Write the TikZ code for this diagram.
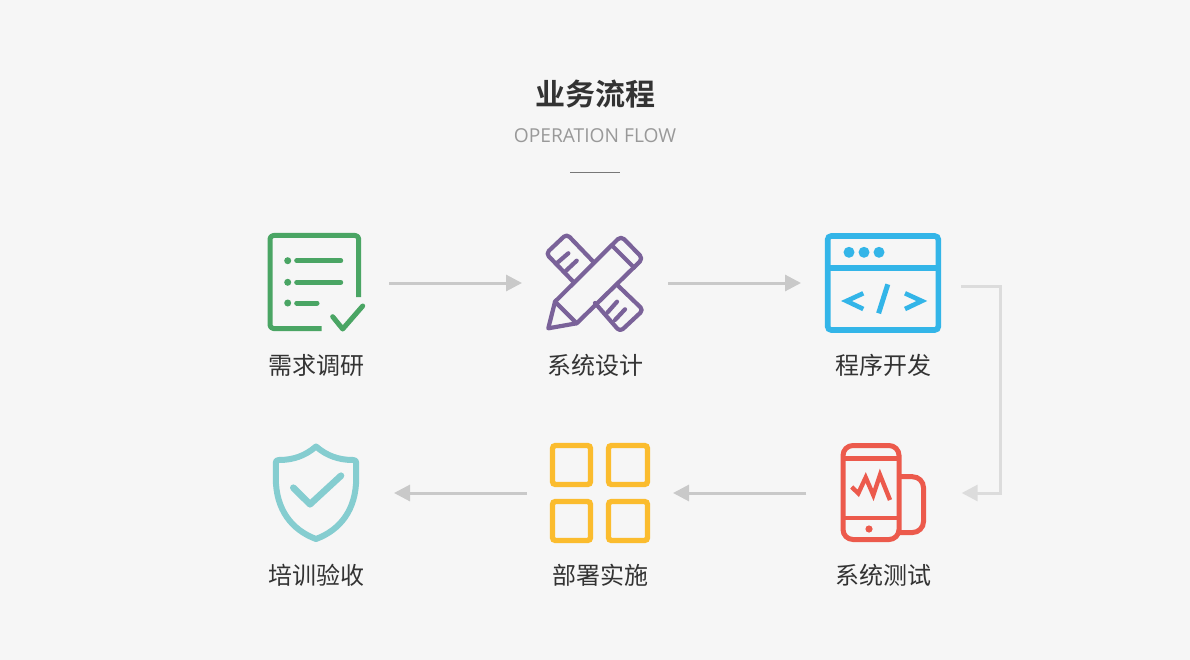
\documentclass[tikz,border=0pt]{standalone}
\usepackage{fontspec}
\setmainfont{Open Sans}
\newfontfamily\cjk{Noto Sans CJK SC}
\newfontfamily\cjkbold{Noto Sans CJK SC Bold}
\usetikzlibrary{arrows.meta}
\definecolor{pagebg}{HTML}{F6F6F6}
\definecolor{inkdark}{HTML}{333333}
\definecolor{inkmuted}{HTML}{999999}
\definecolor{ruleline}{HTML}{777777}
\definecolor{flowgrey}{HTML}{C9C9C9}
\definecolor{elbowgrey}{HTML}{DCDCDC}
\definecolor{icongreen}{HTML}{4AA564}
\definecolor{iconpurple}{HTML}{7A6299}
\definecolor{iconblue}{HTML}{33B5E8}
\definecolor{iconred}{HTML}{EC5A4C}
\definecolor{iconamber}{HTML}{FBBC2E}
\definecolor{iconteal}{HTML}{85CDD0}
\tikzset{
  iconbox/.style={inner sep=0pt,outer sep=0pt,minimum height=100pt},
  caption/.style={font=\cjk\fontsize{24}{28}\selectfont,text=inkdark,inner sep=0pt,anchor=center},
  flowarrow/.style={draw=flowgrey,line width=3pt,-{Triangle[length=16pt,width=16pt,fill=flowgrey]}},
  elbowarrow/.style={draw=elbowgrey,line width=3pt,-{Triangle[length=16pt,width=16pt,fill=elbowgrey]}},
  glyph/.style={line width=#1,line cap=round,line join=round},
  glyph/.default=5pt
}
\begin{document}
\begin{tikzpicture}[x=1pt,y=-1pt]
\useasboundingbox (0,0) rectangle (1190,660);
\fill[pagebg] (0,0) rectangle (1190,660);

% heading
\node[inner sep=0pt,text=inkdark,font=\cjkbold\fontsize{30}{34}\selectfont] (title) at (595.5,94) {业务流程};
\node[inner sep=0pt,text=inkmuted,font=\fontsize{19.2}{22}\selectfont] (subtitle) at (595,135.5) {OPERATION FLOW};
\draw[ruleline,line width=1pt] (570,172.5) -- (620,172.5);

% invisible boxes that carry the flow connectors
\node[iconbox,minimum width=146pt] (req) at (316,283) {};
\node[iconbox,minimum width=146pt] (design) at (595,283) {};
\node[iconbox,minimum width=160pt] (code) at (881,283) {};
\node[iconbox,minimum width=155.4pt] (test) at (884,493) {};
\node[iconbox,minimum width=146pt] (deploy) at (600,493) {};
\node[iconbox,minimum width=156pt] (accept) at (316,493) {};
\coordinate (elbowstart) at ([yshift=-3pt]code.east);
\coordinate (bend) at (1000.5,286);

\draw[flowarrow] (req.east) -- (design.west);
\draw[flowarrow] (design.east) -- (code.west);
\draw[elbowarrow] (elbowstart) -- (bend) |- (test.east);
\draw[flowarrow] (test.west) -- (deploy.east);
\draw[flowarrow] (deploy.west) -- (accept.east);

% checklist
\begin{scope}[icongreen]
\draw[glyph,line cap=butt,rounded corners=3.5pt] (321.7,328.5) -- (270,328.5) -- (270,235.5) -- (358.7,235.5) -- (358.7,297);
\draw[glyph] (296.7,260.7) -- (340.7,260.7) (296.7,282.3) -- (340.7,282.3) (296.7,303) -- (317,303);
\fill (287.7,260.7) circle (3.5pt) (287.7,282.3) circle (3.5pt) (287.7,303) circle (3.5pt);
\draw[glyph] (332.7,316.7) -- (342.7,329) -- (362.7,306);
\end{scope}

% pencil over ruler
\begin{scope}[iconpurple]
\draw[glyph=4.2pt,rounded corners=4pt] (593.3,261.7) -- (566.7,234) -- (546,253.5) -- (573.3,281.7);
\draw[glyph=4.2pt] (556.7,263.3) -- (568.3,253.3) (565,271.7) -- (576.7,260.7);
\draw[glyph=4.2pt,rounded corners=4pt] (595,303) -- (620,331.7) -- (643.3,310) -- (617.3,285);
\draw[glyph=4.2pt] (607.3,312.7) -- (617,301.7) (615,320) -- (625,309.3);
\draw[glyph=4.2pt,rounded corners=4.5pt] (555,301.7) -- (621,236) -- (643,258.5) -- (576.7,323.3);
\draw[glyph=4.2pt] (555,301.7) -- (548.3,328.3) -- (576.7,323.3) -- cycle;
\draw[glyph=4.2pt] (612,245.5) -- (634,267.5);
\end{scope}

% code window
\begin{scope}[iconblue]
\draw[line width=5.6pt,rounded corners=3.5pt] (827.7,236) rectangle (938.3,330);
\draw[line width=6pt] (827.7,268.3) -- (938.3,268.3);
\fill (849,252.3) circle (5.5pt) (864,252.3) circle (5.5pt) (879,252.3) circle (5.5pt);
\draw[glyph=4.6pt,line cap=butt,line join=miter] (863.3,293.3) -- (846.5,301) -- (863.3,309);
\draw[glyph=4.6pt,line cap=butt,line join=miter] (905,293.3) -- (921.8,301) -- (905,309);
\draw[line width=5pt] (887.8,284.3) -- (878.6,313.3);
\end{scope}

% handset with signal trace
\begin{scope}[iconred]
\draw[line width=5pt,rounded corners=10pt] (843,445.5) rectangle (899,539.5);
\draw[line width=4.4pt] (843,458.3) -- (899,458.3) (843,517.7) -- (899,517.7);
\fill (869,529) circle (3.6pt);
\draw[line width=5pt,rounded corners=11pt] (899,476.7) -- (923.5,476.7) -- (923.5,532.5) -- (899,532.5);
\draw[line width=4.4pt,line join=miter] (851.7,487) -- (858.3,493.3) -- (865.7,477.5) -- (873.3,495) -- (880,475) -- (890,500);
\end{scope}

% grid of four tiles
\begin{scope}[iconamber,line width=5.4pt,rounded corners=3pt]
\draw (552.5,445.5) rectangle (590.5,484.5);
\draw (608.5,445.5) rectangle (647.5,484.5);
\draw (552.5,501.5) rectangle (590.5,540.5);
\draw (608.5,501.5) rectangle (647.5,540.5);
\end{scope}

% shield with tick
\begin{scope}[iconteal]
\draw[line width=6pt,line join=round]
  (316,446.5) .. controls (305,456) and (293,460) .. (279,460)
  .. controls (276.5,460) and (275.8,461) .. (275.8,463)
  -- (275.8,478)
  .. controls (275.8,510) and (292,530) .. (316,539)
  .. controls (340,530) and (356.2,510) .. (356.2,478)
  -- (356.2,463)
  .. controls (356.2,461) and (355.5,460) .. (353,460)
  .. controls (339,460) and (327,456) .. (316,446.5) -- cycle;
\draw[glyph=6.6pt] (293.3,487.7) -- (310,504.3) -- (341,475.7);
\end{scope}

% step captions
\node[caption] (capreq) at (316,365) {需求调研};
\node[caption] (capdesign) at (595,365) {系统设计};
\node[caption] (capcode) at (883,365) {程序开发};
\node[caption] (captest) at (883,575) {系统测试};
\node[caption] (capdeploy) at (600,575) {部署实施};
\node[caption] (capaccept) at (316,575) {培训验收};
\end{tikzpicture}
\end{document}
